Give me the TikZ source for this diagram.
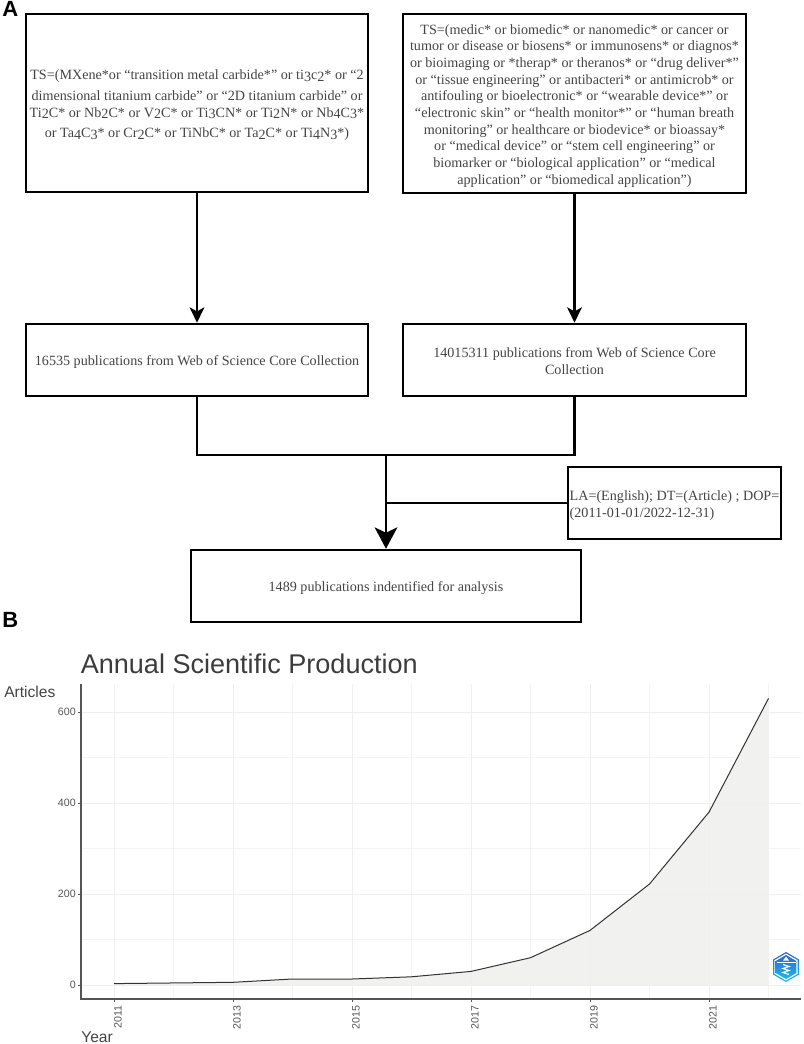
\documentclass[tikz,border=0pt]{standalone}
\usepackage{fontspec}
\setmainfont{Liberation Serif}
\setsansfont{Liberation Sans}
\usetikzlibrary{arrows.meta,calc}
\newcommand{\dn}[1]{\raisebox{-1.4pt}[0pt][0pt]{#1}}
\newcommand{\tx}[2][c]{\raisebox{-1.8pt}[\height][\depth]{\begin{tabular}{@{}#1@{}}#2\end{tabular}}}
\definecolor{txt}{HTML}{444444}
\definecolor{titlec}{HTML}{3C3C3C}
\definecolor{axcol}{HTML}{555555}
\definecolor{gridc}{HTML}{EFEFEF}
\definecolor{fillc}{HTML}{F0F0EF}
\definecolor{logotop}{HTML}{2F66C4}
\definecolor{logobot}{HTML}{14BDF2}
\tikzset{
  flowbox/.style={draw=black,line width=1.9pt,fill=white,inner sep=0pt,text=txt,font=\fontsize{10.6}{12.5}\selectfont},
  link/.style={draw=black,line width=1.7pt},
  smalltip/.style={-{Stealth[length=11.5pt,width=11pt,inset=3pt]}},
  bigtip/.style={-{Stealth[length=16pt,width=17pt,inset=4pt]}},
  panel/.style={font=\sffamily\bfseries\fontsize{16.5}{16.5}\selectfont,text=black,inner sep=0pt},
  majorg/.style={draw=gridc,line width=0.6pt},
  minorg/.style={draw=gridc!70!white,line width=0.4pt},
  ticklab/.style={font=\sffamily\fontsize{8}{9}\selectfont,text=axcol,inner sep=0pt},
  axtitle/.style={font=\sffamily\fontsize{11.7}{12}\selectfont,text=txt,inner sep=0pt}
}
\begin{document}
\begin{tikzpicture}[x=0.75pt,y=-0.75pt]
\useasboundingbox (0,0) rectangle (803,1044);
\node[panel,anchor=base west] (pa) at (2,17) {A};
\node[panel,anchor=base west] (pb) at (2,627) {B};
% flow boxes
\node[flowbox,minimum width=256.5pt,minimum height=133.5pt] (b1) at (197,103) {\tx{TS=(MXene*or “transition metal carbide*” or ti\dn{3}c\dn{2}* or “2\\[2.8pt]dimensional titanium carbide” or “2D titanium carbide” or\\[0pt]Ti\dn{2}C* or Nb\dn{2}C* or V\dn{2}C* or Ti\dn{3}CN* or Ti\dn{2}N* or Nb\dn{4}C\dn{3}*\\[2.8pt]or Ta\dn{4}C\dn{3}* or Cr\dn{2}C* or TiNbC* or Ta\dn{2}C* or Ti\dn{4}N\dn{3}*)}};
\node[flowbox,minimum width=257pt,minimum height=134pt] (b2) at (574.5,103.5) {\tx{TS=(medic* or biomedic* or nanomedic* or cancer or\\tumor or disease or biosens* or immunosens* or diagnos*\\or bioimaging or *therap* or theranos* or “drug deliver*”\\or “tissue engineering” or antibacteri* or antimicrob* or\\antifouling or bioelectronic* or “wearable device*” or\\“electronic skin” or “health monitor*” or “human breath\\monitoring” or healthcare or biodevice* or bioassay*\\or “medical device” or “stem cell engineering” or\\biomarker or “biological application” or “medical\\application” or “biomedical application”)}};
\node[flowbox,minimum width=256.5pt,minimum height=54pt] (b3) at (197,360) {\tx{16535 publications from Web of Science Core Collection}};
\node[flowbox,minimum width=257pt,minimum height=54pt] (b4) at (574.5,360) {\tx{14015311 publications from Web of Science Core\\Collection}};
\node[flowbox,minimum width=292.5pt,minimum height=54pt] (b5) at (386,586) {\tx{1489 publications indentified for analysis}};
\node[flowbox,minimum width=160pt,minimum height=54pt] (b6) at (674.5,503) {\tx[l]{LA=(English); DT=(Article) ; DOP=\\(2011-01-01/2022-12-31)}};
% connectors
\coordinate (m) at (386,455);
\coordinate (j) at (386,503);
\draw[link,smalltip] (b1) -- (b3);
\draw[link,smalltip] (b2) -- (b4);
\draw[link] (b3.south) |- (m);
\draw[link] (b4.south) |- (m);
\draw[link] (b6.west) -- (j);
\draw[link,bigtip] (m) -- (b5.north);
% chart
\node[font=\sffamily\fontsize{20.3}{22}\selectfont,text=titlec,anchor=base west,inner sep=0pt] (title) at (80.5,673) {Annual Scientific Production};
\node[axtitle,anchor=base west] (ylab) at (4,697) {Articles};
\node[axtitle,anchor=base west] (xlab) at (81,1042) {Year};
% grid
\foreach \yy in {100,300,500} \draw[minorg] (81,{985-0.455*\yy}) -- (801,{985-0.455*\yy});
\foreach \xx in {173.5,292.5,411.5,530.5,649.5,768.5} \draw[minorg] (\xx,684) -- (\xx,999);
\foreach \yy in {0,200,400,600} \draw[majorg] (81,{985-0.455*\yy}) -- (801,{985-0.455*\yy});
\foreach \xx in {114,233,352,471,590,709} \draw[majorg] (\xx,684) -- (\xx,999);
% area
\fill[fillc,opacity=.95] (114,985) -- (114,983.6) -- (233,982.3) -- (292.5,979) -- (352,979) -- (411.5,976.8) -- (471,971.4) -- (530.5,957.7) -- (590,930.4) -- (649.5,884) -- (709,812.1) -- (768.5,698.4) -- (768.5,985) -- cycle;
\draw[black!80,line width=0.75pt,line join=round] (114,983.6) -- (233,982.3) -- (292.5,979) -- (352,979) -- (411.5,976.8) -- (471,971.4) -- (530.5,957.7) -- (590,930.4) -- (649.5,884) -- (709,812.1) -- (768.5,698.4);
% axes
\draw[axcol,line width=0.9pt] (81,684) -- (81,999) -- (801,999);
\foreach \yy in {0,200,400,600} {
  \draw[axcol,line width=0.6pt] (78,{985-0.455*\yy}) -- (81,{985-0.455*\yy});
  \node[ticklab,anchor=east] at (76,{985-0.455*\yy}) {\yy};
}
\foreach \xx/\lab in {114/2011,233/2013,352/2015,471/2017,590/2019,709/2021} {
  \draw[axcol,line width=0.6pt] (\xx,999) -- (\xx,1002);
  \node[ticklab,rotate=90,anchor=east] at (\xx+4,1005) {\lab};
}
% logo
\shade[top color=logotop,bottom color=logobot] (786,952) -- (799,959.5) -- (799,974.5) -- (786,982) -- (773,974.5) -- (773,959.5) -- cycle;
\fill[white] (786,953.5) -- (797.6,960.2) -- (797.6,973.8) -- (786,980.5) -- (774.4,973.8) -- (774.4,960.2) -- cycle;
\shade[top color=logotop,bottom color=logobot] (786,955) -- (796.3,961) -- (796.3,973) -- (786,979) -- (775.7,973) -- (775.7,961) -- cycle;
\fill[white] (786,956.5) -- (789,960.5) -- (783,960.5) -- cycle;
\draw[white,line width=0.6pt] (776.5,962) -- (795.5,962);
\draw[white,line width=0.9pt] (783,964.5) -- (789,966.5) -- (783,968.5) -- (789,970.5) -- (783,972.5) -- (789,974.5);
\end{tikzpicture}
\end{document}
